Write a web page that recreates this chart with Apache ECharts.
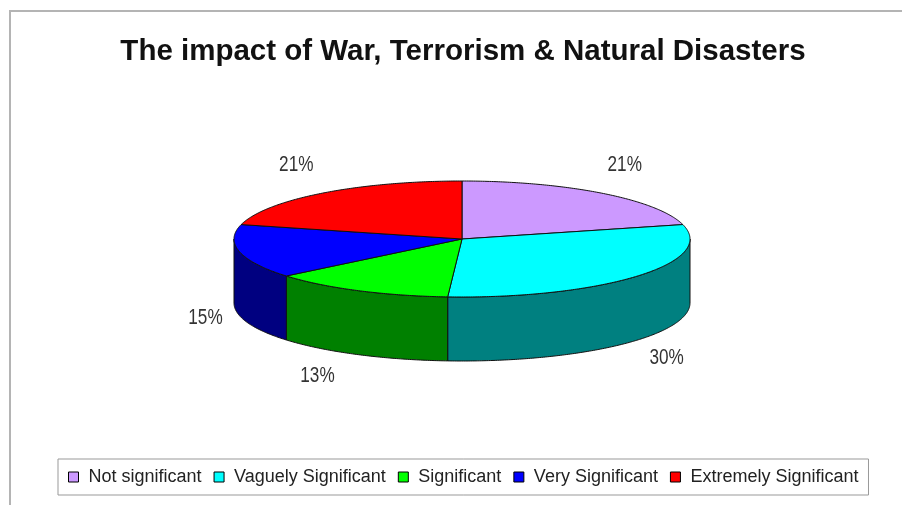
<!DOCTYPE html>
<html><head><meta charset="utf-8">
<script src="https://cdn.jsdelivr.net/npm/echarts@6/dist/echarts.min.js"></script>
<style>html,body{margin:0;padding:0;background:#fff}#c{width:902px;height:505px}</style>
</head><body><div id="c"></div>
<script>
// ---- data ----
const title = 'The impact of War, Terrorism & Natural Disasters';
const categories = ['Not significant', 'Vaguely Significant', 'Significant', 'Very Significant', 'Extremely Significant'];
const values = [21, 30, 13, 15, 21];

// ---- styles / layout ----
const topColors = ['#CC99FF', '#00FFFF', '#00FF00', '#0000FF', '#FF0000'];
const sideColors = ['#996699', '#008080', '#008000', '#000080', '#800000'];
const labelNudge = [[23, -28], [29, 18], [-41, 21], [-34, 2], [-26, -28]];
const PIE = { cx: 462, cy: 239, rx: 228, ry: 58, depth: 64 };

const total = values.reduce((a, b) => a + b, 0);

function renderSlice(i) {
  return function (params, api) {
    const v = api.value(0);
    let start = 0;
    for (let k = 0; k < i; k++) start += values[k];
    const a0 = start / total * 2 * Math.PI;
    const a1 = (start + v) / total * 2 * Math.PI;
    const pt = (t, dy) => [PIE.cx + PIE.rx * Math.sin(t), PIE.cy - PIE.ry * Math.cos(t) + (dy || 0)];
    const children = [];
    const s0 = Math.max(a0, Math.PI / 2), s1 = Math.min(a1, 3 * Math.PI / 2);
    if (s1 > s0) {
      const M = Math.max(4, Math.ceil((s1 - s0) / 0.01));
      const up = [], down = [];
      for (let j = 0; j <= M; j++) {
        const t = s0 + (s1 - s0) * j / M;
        up.push(pt(t)); down.push(pt(t, PIE.depth));
      }
      children.push({ type: 'polygon', z2: 1, shape: { points: up.concat(down.reverse()) },
        style: { fill: sideColors[i], stroke: '#111', lineWidth: 1, lineJoin: 'round' } });
    }
    const N = Math.max(8, Math.ceil((a1 - a0) / 0.01));
    const topPts = [[PIE.cx, PIE.cy]];
    for (let j = 0; j <= N; j++) topPts.push(pt(a0 + (a1 - a0) * j / N));
    children.push({ type: 'polygon', z2: 2, shape: { points: topPts },
      style: { fill: topColors[i], stroke: '#111', lineWidth: 1, lineJoin: 'round' } });
    const mid = (a0 + a1) / 2;
    const base = pt(mid, Math.cos(mid) < 0 ? PIE.depth : 0);
    children.push({ type: 'text', z2: 3, x: base[0] + labelNudge[i][0], y: base[1] + labelNudge[i][1], scaleX: 0.78,
      style: { text: Math.round(v / total * 100) + '%', fill: '#333', fontSize: 22, fontFamily: 'Liberation Sans',
        align: 'center', verticalAlign: 'middle' } });
    return { type: 'group', children };
  };
}

const chart = echarts.init(document.getElementById('c'), null, { renderer: 'canvas' });
chart.setOption({
  animation: false,
  backgroundColor: '#fff',
  graphic: [
    { type: 'rect', z: 0, shape: { x: 10, y: 11, width: 1000, height: 600 }, style: { fill: 'none', stroke: '#b4b4b4', lineWidth: 2 } },
    { type: 'text', z: 10, x: 463, y: 52, style: { text: title, fill: '#111', fontSize: 29.5, fontWeight: 'bold',
      fontFamily: 'Liberation Sans', align: 'center', verticalAlign: 'middle' } }
  ],
  legend: {
    data: categories,
    left: 58, top: 459,
    orient: 'horizontal',
    icon: 'rect', itemWidth: 10, itemHeight: 10, itemGap: 12,
    borderColor: '#999', borderWidth: 1, borderRadius: 0, backgroundColor: '#fff',
    padding: [9, 10],
    itemStyle: { borderColor: '#000', borderWidth: 1 },
    textStyle: { fontSize: 18, color: '#222', fontFamily: 'Liberation Sans', padding: [0, 0, 0, 5] },
    selectedMode: false
  },
  series: categories.map((name, i) => ({
    type: 'custom', name, coordinateSystem: 'none',
    itemStyle: { color: topColors[i] },
    data: [[values[i]]],
    renderItem: renderSlice(i)
  }))
});
</script></body></html>
